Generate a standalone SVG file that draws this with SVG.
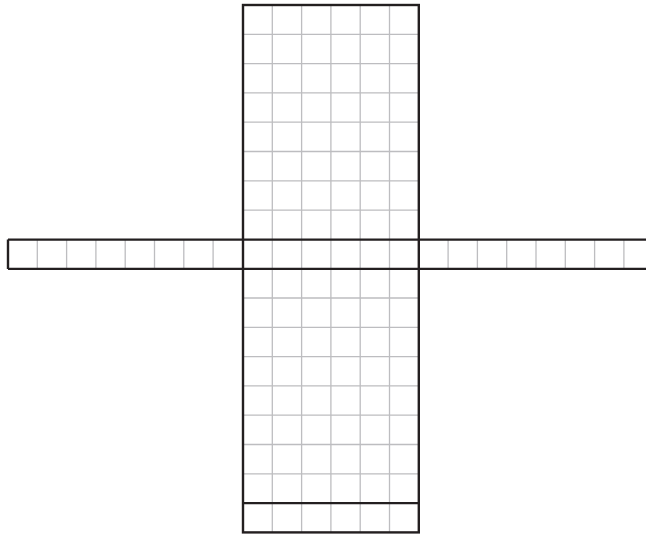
<svg xmlns="http://www.w3.org/2000/svg" width="646" height="534" viewBox="0 0 646 534">
<style>
.g{fill:none;stroke:#bdbdc0;stroke-width:1.3}
.k{fill:none;stroke:#231f20;stroke-width:2.4}
</style>
<rect width="646" height="534" fill="#ffffff"/>
<g id="grid-lines">
<path class="g" d="M272.3 5V532.4M301.6 5V532.4M330.9 5V532.4M360.2 5V532.4M389.5 5V532.4"/>
<path class="g" d="M243 34.3H418.8M243 63.6H418.8M243 92.9H418.8M243 122.2H418.8M243 151.5H418.8M243 180.8H418.8M243 210.1H418.8M243 298H418.8M243 327.3H418.8M243 356.6H418.8M243 385.9H418.8M243 415.2H418.8M243 444.5H418.8M243 473.8H418.8"/>
<path class="g" d="M37.3 239.6V268.9M66.6 239.6V268.9M95.9 239.6V268.9M125.2 239.6V268.9M154.5 239.6V268.9M183.8 239.6V268.9M213.1 239.6V268.9"/>
<path class="g" d="M448.1 239.6V268.9M477.4 239.6V268.9M506.7 239.6V268.9M536 239.6V268.9M565.3 239.6V268.9M594.6 239.6V268.9M623.9 239.6V268.9"/>
</g>
<g id="outlines">
<rect class="k" x="243" y="5" width="175.8" height="527.4"/>
<path class="k" d="M8 239.6H660M8 268.9H660M8 239.6V268.9M243 503.1H418.8"/>
</g>
</svg>
